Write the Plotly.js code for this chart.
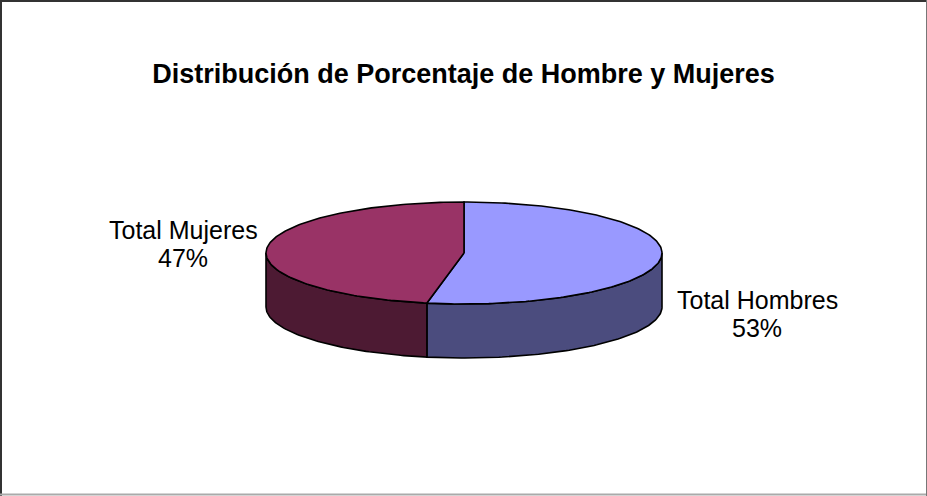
<!DOCTYPE html>
<html>
<head>
<meta charset="utf-8">
<script src="https://cdn.plot.ly/plotly-3.0.1.min.js"></script>
<style>
html,body{margin:0;padding:0;background:#fff;}
#chart{width:927px;height:496px;}
</style>
</head>
<body>
<div id="chart"></div>
<script>
// ---- data ----
const titleText = 'Distribución de Porcentaje de Hombre y Mujeres';
const labels = ['Total Hombres', 'Total Mujeres'];
const values = [53, 47];
const topColors = ['#9999FF', '#993366'];
const sideColors = ['#4B4C7E', '#4D1A33'];

// ---- geometry (pixel space) ----
const W = 927, H = 496;
const cx = 464, cy = 253, rx = 198, ry = 51, depth = 54;

function pt(deg, dy) {
  const r = deg * Math.PI / 180;
  return [cx + rx * Math.sin(r), cy - ry * Math.cos(r) + (dy || 0)];
}
function arc(a, b, dy) {
  const xs = [], ys = [];
  const n = Math.max(2, Math.ceil(Math.abs(b - a)));
  for (let i = 0; i <= n; i++) {
    const p = pt(a + (b - a) * i / n, dy);
    xs.push(p[0]); ys.push(p[1]);
  }
  return [xs, ys];
}

const total = values.reduce((s, v) => s + v, 0);
const sideTraces = [], topTraces = [];
let start = 0;
values.forEach((v, i) => {
  const a = start, b = start + v / total * 360;
  start = b;
  const [ax, ay] = arc(a, b, 0);
  topTraces.push({
    type: 'scatter', mode: 'lines', fill: 'toself',
    x: [cx].concat(ax, [cx]), y: [cy].concat(ay, [cy]),
    fillcolor: topColors[i], line: {color: '#000', width: 1.6},
    hoverinfo: 'skip', showlegend: false
  });
  const s = Math.max(a, 90), e = Math.min(b, 270);
  if (e > s) {
    const [tx, ty] = arc(s, e, 0);
    const [bx, by] = arc(e, s, depth);
    sideTraces.push({
      type: 'scatter', mode: 'lines', fill: 'toself',
      x: tx.concat(bx, [tx[0]]), y: ty.concat(by, [ty[0]]),
      fillcolor: sideColors[i], line: {color: '#000', width: 1.6},
      hoverinfo: 'skip', showlegend: false
    });
  }
});

const labelFont = {family: 'Liberation Sans, Arial, sans-serif', size: 25, color: '#000'};
const labelPos = [[757, 300], [183, 230]];
const lineGap = 28;
const annotations = [];
values.forEach((v, i) => {
  const lines = [labels[i], Math.round(v / total * 100) + '%'];
  lines.forEach((t, k) => annotations.push({
    x: labelPos[i][0], y: labelPos[i][1] + k * lineGap, xref: 'x', yref: 'y',
    text: t, showarrow: false, xanchor: 'center', yanchor: 'middle', font: labelFont
  }));
});

const layout = {
  width: W, height: H,
  margin: {l: 0, r: 0, t: 0, b: 0},
  paper_bgcolor: '#fff', plot_bgcolor: '#fff',
  title: {
    text: '<b>' + titleText + '</b>',
    x: 0.5, xanchor: 'center', xref: 'paper',
    y: 1 - 74 / H, yanchor: 'middle', yref: 'container',
    font: {family: 'Liberation Sans, Arial, sans-serif', size: 27, color: '#000'}
  },
  xaxis: {range: [0, W], visible: false, fixedrange: true},
  yaxis: {range: [H, 0], visible: false, fixedrange: true},
  showlegend: false,
  annotations: annotations,
  shapes: [
    {type: 'line', xref: 'x', yref: 'y', x0: 1, x1: 1, y0: 0, y1: H, line: {color: '#333', width: 2}},
    {type: 'line', xref: 'x', yref: 'y', x0: 0, x1: W, y0: 1, y1: 1, line: {color: '#333', width: 2}},
    {type: 'line', xref: 'x', yref: 'y', x0: 0, x1: W, y0: H - 1.5, y1: H - 1.5, line: {color: '#aaa', width: 2}},
    {type: 'line', xref: 'x', yref: 'y', x0: W - 0.5, x1: W - 0.5, y0: 0, y1: H, line: {color: '#777', width: 1}}
  ]
};

Plotly.newPlot('chart', sideTraces.concat(topTraces), layout, {staticPlot: true, displayModeBar: false});
</script>
</body>
</html>
